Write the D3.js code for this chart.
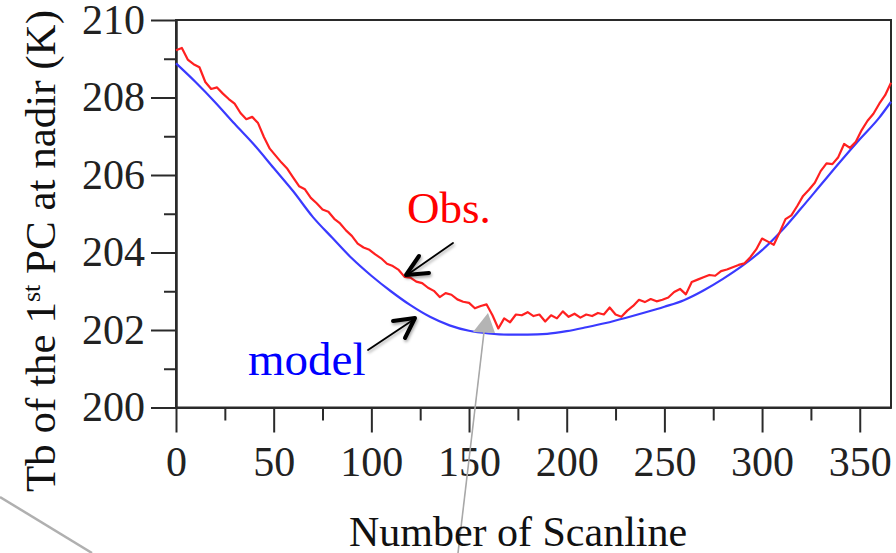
<!DOCTYPE html>
<html>
<head>
<meta charset="utf-8">
<script src="https://cdn.jsdelivr.net/npm/d3@7"></script>
<style>
  body { margin: 0; background: #fff; }
  svg { display: block; }
  text { font-family: "Liberation Serif", "Times New Roman", serif; }
</style>
</head>
<body>
<div id="chart"></div>
<script>
// axis ticks
const scanlineTicks = [0, 50, 100, 150, 200, 250, 300, 350];
const scanlineMinor = [25, 75, 125, 175, 225, 275, 325];
const tbTicks = [200, 202, 204, 206, 208, 210];
const tbMinor = [201, 203, 205, 207, 209];

// model curve (blue)
const modelScan = [0, 10, 20, 30, 40, 50, 60, 70, 80, 90, 100, 110, 120, 130, 140, 150, 160, 170, 180,
  190, 200, 210, 220, 230, 240, 250, 260, 270, 280, 290, 300, 310, 320, 330, 340, 350, 360, 366];
const modelTb = [208.88, 208.40, 207.88, 207.32, 206.78, 206.18, 205.58, 204.92, 204.38, 203.85, 203.40,
  203.00, 202.64, 202.34, 202.12, 201.98, 201.91, 201.88, 201.88, 201.90, 201.97, 202.07, 202.18, 202.31,
  202.45, 202.60, 202.77, 203.02, 203.32, 203.66, 204.06, 204.56, 205.14, 205.74, 206.34, 206.92, 207.48, 207.89];

// observations (red), one value every 3 scanlines from 0
const obsStep = 3;
const obsTb = [209.22, 209.28, 208.98, 208.86, 208.78, 208.40, 208.22, 208.26, 208.10, 207.96, 207.84,
  207.60, 207.44, 207.50, 207.34, 206.98, 206.68, 206.50, 206.32, 206.16, 205.93, 205.71, 205.63, 205.41,
  205.27, 205.11, 205.05, 204.87, 204.75, 204.57, 204.43, 204.23, 204.13, 204.07, 203.95, 203.85, 203.71,
  203.65, 203.55, 203.37, 203.35, 203.25, 203.21, 203.09, 203.01, 202.85, 202.95, 202.91, 202.79, 202.73,
  202.70, 202.56, 202.62, 202.66, 202.38, 202.04, 202.30, 202.20, 202.40, 202.38, 202.46, 202.36, 202.40,
  202.22, 202.38, 202.30, 202.48, 202.34, 202.42, 202.32, 202.40, 202.36, 202.44, 202.40, 202.58, 202.40,
  202.34, 202.50, 202.62, 202.78, 202.72, 202.80, 202.74, 202.78, 202.84, 202.98, 203.06, 202.92, 203.24,
  203.30, 203.36, 203.42, 203.40, 203.52, 203.56, 203.62, 203.68, 203.72, 203.88, 204.08, 204.36, 204.28,
  204.20, 204.52, 204.86, 204.96, 205.20, 205.46, 205.62, 205.80, 206.10, 206.30, 206.28, 206.46, 206.80,
  206.70, 206.86, 207.16, 207.40, 207.58, 207.84, 208.06, 208.38];

document.addEventListener("DOMContentLoaded", draw)

function draw(){
    const width = 896, height = 553;
    const plot = {left: 176, right: 891, top: 20, bottom: 407.5};

    const svg = d3.select("#chart").append("svg")
        .attr("width", width)
        .attr("height", height);

    const defs = svg.append("defs");
    defs.append("filter").attr("id", "shadow")
        .attr("x", "-30%").attr("y", "-30%").attr("width", "160%").attr("height", "160%")
        .append("feDropShadow")
        .attr("dx", 1).attr("dy", 2).attr("stdDeviation", 1.5)
        .attr("flood-color", "#000").attr("flood-opacity", 0.35);

    const x = d3.scaleLinear().domain([0, 366]).range([plot.left, plot.right]);
    const y = d3.scaleLinear().domain([200, 210]).range([plot.bottom, plot.top]);

    // frame
    svg.append("rect")
        .attr("x", plot.left).attr("y", plot.top)
        .attr("width", plot.right - plot.left).attr("height", plot.bottom - plot.top)
        .attr("fill", "none").attr("stroke", "#2a2a2a").attr("stroke-width", 2);

    // y axis
    svg.append("g").attr("transform", `translate(${plot.left},0)`)
        .call(d3.axisLeft(y).tickValues(tbTicks).tickSize(25).tickSizeOuter(0).tickPadding(6).tickFormat(d3.format("d")));
    svg.append("g").attr("transform", `translate(${plot.left},0)`)
        .call(d3.axisLeft(y).tickValues(tbMinor).tickSize(12).tickSizeOuter(0).tickFormat(""));

    // x axis
    svg.append("g").attr("transform", `translate(0,${plot.bottom})`)
        .call(d3.axisBottom(x).tickValues(scanlineTicks).tickSize(25).tickSizeOuter(0).tickPadding(14));
    svg.append("g").attr("transform", `translate(0,${plot.bottom})`)
        .call(d3.axisBottom(x).tickValues(scanlineMinor).tickSize(13).tickSizeOuter(0).tickFormat(""));

    svg.selectAll(".domain").attr("stroke", "#2a2a2a").attr("stroke-width", 2);
    svg.selectAll(".tick line").attr("stroke", "#2a2a2a").attr("stroke-width", 2);
    svg.selectAll(".tick text")
        .attr("font-family", "Liberation Serif, Times New Roman, serif")
        .attr("font-size", 42)
        .attr("fill", "#222");

    // curves
    const modelLine = d3.line()
        .x((d, i) => x(modelScan[i]))
        .y(d => y(d))
        .curve(d3.curveMonotoneX);
    svg.append("path")
        .datum(modelTb)
        .attr("d", modelLine)
        .attr("fill", "none")
        .attr("stroke", "#3a3aff")
        .attr("stroke-width", 2.2);

    const obsLine = d3.line()
        .x((d, i) => x(i * obsStep))
        .y(d => y(d));
    svg.append("path")
        .datum(obsTb)
        .attr("d", obsLine)
        .attr("fill", "none")
        .attr("stroke", "#ff2020")
        .attr("stroke-width", 2.2)
        .attr("stroke-linejoin", "round");

    // labels
    svg.append("text")
        .attr("x", 407).attr("y", 223)
        .attr("font-size", 45)
        .attr("fill", "#ff0000")
        .text("Obs.");
    svg.append("text")
        .attr("x", 248).attr("y", 375)
        .attr("font-size", 47)
        .attr("fill", "#0000ff")
        .text("model");

    // black arrows
    const arrows = svg.append("g").attr("filter", "url(#shadow)")
        .attr("stroke", "#000").attr("fill", "none")
        .attr("stroke-linecap", "round").attr("stroke-linejoin", "round");
    arrows.append("line").attr("x1", 453).attr("y1", 243).attr("x2", 407).attr("y2", 275).attr("stroke-width", 1.8);
    arrows.append("polyline").attr("points", "419,256 406,275 429,273").attr("stroke-width", 4);
    arrows.append("line").attr("x1", 368).attr("y1", 350).attr("x2", 413).attr("y2", 320).attr("stroke-width", 1.8);
    arrows.append("polyline").attr("points", "393,321 415,318 405,338").attr("stroke-width", 4);

    // gray pointer arrow
    svg.append("line")
        .attr("x1", 458).attr("y1", 553).attr("x2", 484).attr("y2", 332)
        .attr("stroke", "#a8a8a8").attr("stroke-width", 1.6);
    svg.append("polygon")
        .attr("points", "488,313 473,332 495,333")
        .attr("fill", "#b4b4b4");

    // gray line at bottom left
    svg.append("line")
        .attr("x1", 0).attr("y1", 497).attr("x2", 92).attr("y2", 553)
        .attr("stroke", "#b0b0b0").attr("stroke-width", 2.5);

    // axis titles
    svg.append("text")
        .attr("x", 518).attr("y", 546)
        .attr("text-anchor", "middle")
        .attr("font-size", 42)
        .attr("fill", "#111")
        .text("Number of Scanline");

    const yTitle = svg.append("text")
        .attr("transform", "translate(55,251) rotate(-90)")
        .attr("text-anchor", "middle")
        .attr("font-size", 43)
        .attr("fill", "#111");
    yTitle.append("tspan").text("Tb of the 1");
    yTitle.append("tspan").attr("font-size", 26).attr("dy", -15).text("st");
    yTitle.append("tspan").attr("dy", 15).text(" PC at nadir (K)");
}
</script>
</body>
</html>
